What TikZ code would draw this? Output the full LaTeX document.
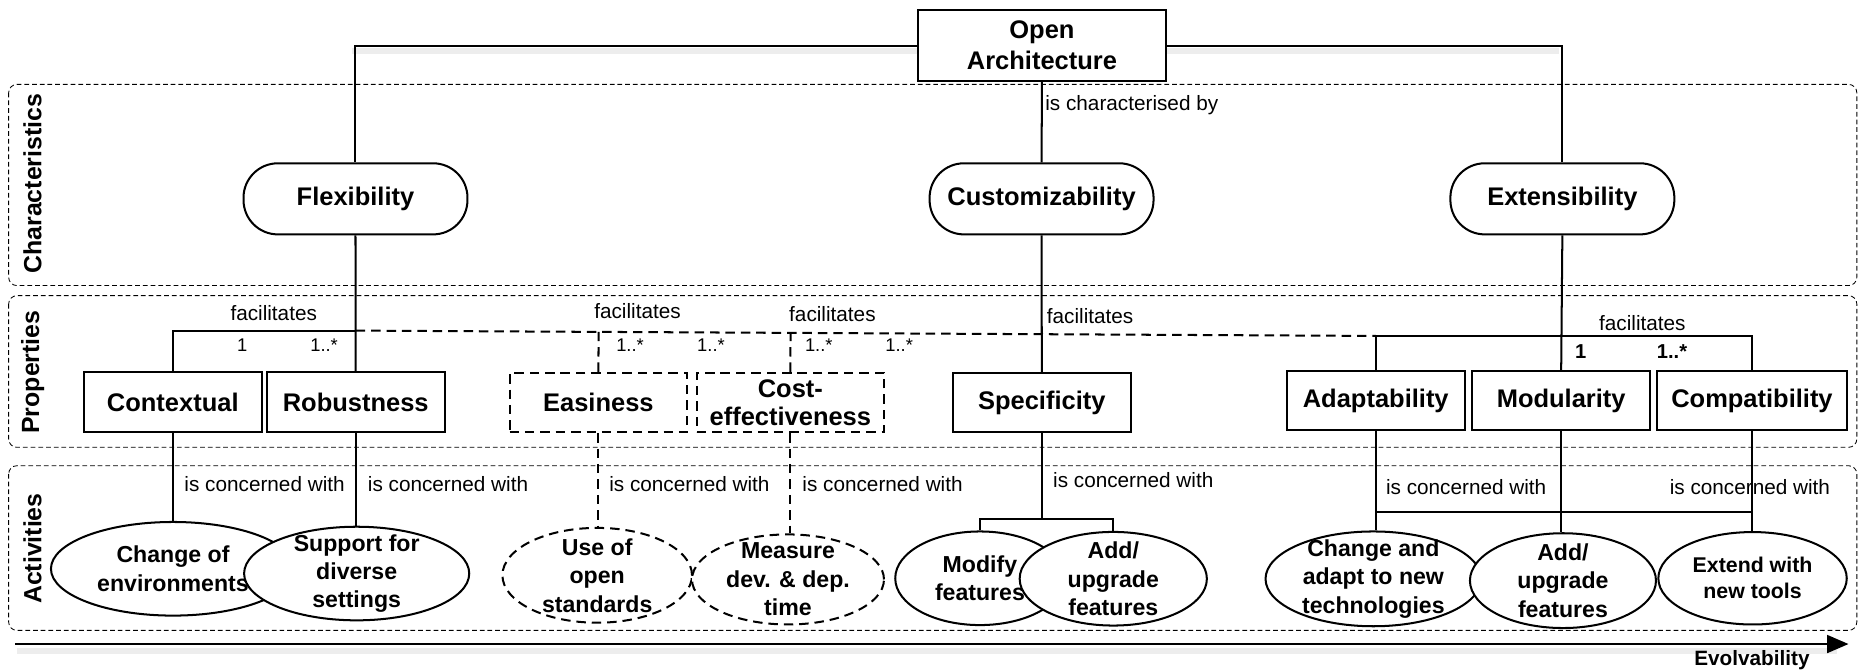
\documentclass[tikz,border=0pt]{standalone}
\usepackage{fontspec}
\setmainfont{Liberation Sans}
\usetikzlibrary{shapes.geometric,calc,arrows.meta}

\begin{document}
\begin{tikzpicture}[x=1pt,y=-1pt,
  lane/.style={draw, line width=0.7pt, dash pattern=on 4pt off 2.5pt, rounded corners=7pt},
  lanename/.style={rotate=90, font=\fontsize{21}{24}\selectfont\bfseries, inner sep=0pt},
  topbox/.style={draw, line width=1.7pt, fill=white, minimum width=209pt, minimum height=60pt,
    inner sep=0pt, align=center, font=\fontsize{21.5}{26}\selectfont\bfseries},
  charbox/.style={draw, line width=1.7pt, fill=white, minimum width=189pt, minimum height=60pt,
    rounded corners=29pt, inner sep=0pt, font=\fontsize{21.5}{26}\selectfont\bfseries},
  propbox/.style={draw, line width=1.7pt, fill=white, minimum height=50pt, inner sep=0pt,
    align=center, font=\fontsize{21.5}{24}\selectfont\bfseries},
  optbox/.style={propbox, dash pattern=on 8pt off 5pt},
  actnode/.style={draw, ellipse, line width=1.7pt, fill=white, inner sep=0pt},
  optact/.style={actnode, dash pattern=on 8pt off 5pt},
  acttext/.style={align=center, inner sep=0pt, font=\fontsize{19.5}{24}\selectfont\bfseries},
  acttextsm/.style={align=center, inner sep=0pt, font=\fontsize{18}{22}\selectfont\bfseries},
  link/.style={line width=1.7pt},
  optlink/.style={line width=1.7pt, dash pattern=on 8pt off 5pt},
  rel/.style={font=\fontsize{17.5}{20}\selectfont, inner sep=0pt},
  card/.style={font=\fontsize{15.5}{17}\selectfont, inner sep=0pt},
  cardbold/.style={font=\fontsize{17}{19}\selectfont\bfseries, inner sep=0pt},
  shade/.style={line width=5pt, gray!14},
]
\useasboundingbox (0,0) rectangle (1568,566);

% swim lanes
\draw[lane] (7.3,71.2) rectangle (1567,241);
\draw[lane] (7.3,249.5) rectangle (1567,377.5);
\draw[lane] (7.3,393) rectangle (1567,532);
\node[lanename] (lchar) at (27.5,155) {Characteristics};
\node[lanename] (lprop) at (27.5,314) {Properties};
\node[lanename] (lact) at (27.5,463) {Activities};

% evolvability axis
\draw[shade] (14,549) -- (1550,549);
\coordinate (ax0) at (12.7,543.5);
\coordinate (ax1) at (1560,543.5);
\draw[line width=1.8pt, -{Triangle[length=18pt,width=15pt]}] (ax0) -- (ax1);
\node[font=\fontsize{17.5}{20}\selectfont\bfseries, inner sep=0pt] (evo) at (1478.5,557) {Evolvability};

% top concept and characteristics
\node[topbox] (oa) at (879.3,38.4) {Open\\Architecture};
\node[charbox] (flex) at (300,167.8) {Flexibility};
\node[charbox] (cust) at (879,167.8) {Customizability};
\node[charbox] (ext) at (1318.5,167.8) {Extensibility};

% properties
\node[propbox, minimum width=150pt] (ctx) at (145.8,339.3) {Contextual};
\node[propbox, minimum width=150.5pt] (rob) at (300.2,339.3) {Robustness};
\node[optbox, minimum width=150pt] (eas) at (505,339.7) {Easiness};
\node[optbox, minimum width=158pt] (cost) at (667,339.7) {Cost-\\effectiveness};
\node[propbox, minimum width=150.5pt] (spec) at (879.2,339.7) {Specificity};
\node[propbox, minimum width=150pt] (ada) at (1161,338) {Adaptability};
\node[propbox, minimum width=150pt] (mod) at (1317.5,338) {Modularity};
\node[propbox, minimum width=161pt] (cmp) at (1478.5,338) {Compatibility};

% activities
\node[actnode, minimum width=206pt, minimum height=79pt,
  label={[acttext]center:{Change of\\environments}}] (chg) at (146,480) {};
\node[actnode, minimum width=190pt, minimum height=79pt,
  label={[acttext]center:{Support for\\diverse\\settings}}] (sup) at (301,484) {};
\node[optact, minimum width=160pt, minimum height=80pt,
  label={[acttext]center:{Use of\\open\\standards}}] (use) at (504,485.5) {};
\node[optact, minimum width=162pt, minimum height=76pt,
  label={[acttext]center:{Measure\\dev. \& dep.\\time}}] (meas) at (665,489) {};
\node[actnode, minimum width=143pt, minimum height=79pt,
  label={[acttext]center:{Modify\\features}}] (modf) at (827,488) {};
\node[actnode, minimum width=158pt, minimum height=79pt,
  label={[acttext]center:{Add/\\upgrade\\features}}] (addf) at (939.5,488.4) {};
\node[actnode, minimum width=182pt, minimum height=80pt,
  label={[acttext]center:{Change and\\adapt to new\\technologies}}] (chad) at (1159,488.5) {};
\node[actnode, minimum width=157pt, minimum height=80pt,
  label={[acttext]center:{Add/\\upgrade\\features}}] (addu) at (1319,490) {};
\node[actnode, minimum width=159pt, minimum height=78pt,
  label={[acttextsm]center:{Extend with\\new tools}}] (extt) at (1479,488) {};

% open architecture is characterised by ...
\draw[shade] ([yshift=-5pt]oa.west) -- ([yshift=-5pt,xshift=-3pt]oa.west -| flex.north);
\draw[shade] ([yshift=-5pt]oa.east) -- ([yshift=-5pt,xshift=-3pt]oa.east -| ext.north);
\draw[link] (oa.west) -| (flex.north);
\draw[link] (oa.east) -| (ext.north);
\draw[link] (oa.south) -- (cust.north);
\node[rel, anchor=west] (lcb) at (882,88.6) {is characterised by};

% facilitates
\coordinate (ybar) at (0,279);
\coordinate (ybarx) at (0,283.5);
\coordinate (fj) at (rob.north |- ybar);
\coordinate (aj) at (ada.north |- ybarx);
\draw[link] (flex.south) -- (rob.north);
\draw[link] (ctx.north) |- (fj);
\draw[optlink] (fj) -- (aj);
\draw[optlink] (eas.north) -- ($(fj)!(eas.north)!(aj)$);
\draw[optlink] (cost.north) -- ($(fj)!(cost.north)!(aj)$);
\draw[link] (cust.south) -- (spec.north);
\draw[link] (ext.south) -- (mod.north);
\draw[link] (ada.north) -- (aj) -- (cmp.north |- aj) -- (cmp.north);

\node[rel] (fa1) at (231,264.4) {facilitates};
\node[rel] (fa2) at (538,262.2) {facilitates};
\node[rel] (fa3) at (702.5,265) {facilitates};
\node[rel, anchor=west] (fa4) at (883.3,266.7) {facilitates};
\node[rel] (fa5) at (1386,272.3) {facilitates};

\node[card] (c1) at (204.5,291) {1};
\node[card] (c2) at (273.5,291) {1..*};
\node[card] (c3) at (531.7,291) {1..*};
\node[card] (c4) at (600,291) {1..*};
\node[card] (c5) at (691,291) {1..*};
\node[card] (c6) at (758.8,291) {1..*};
\node[cardbold] (c7) at (1334,297) {1};
\node[cardbold] (c8) at (1411,297) {1..*};

% is concerned with
\coordinate (ysb) at (0,438);
\coordinate (yab) at (0,432);
\draw[link] (ctx.south) -- (ctx.south |- chg.north);
\draw[link] (rob.south) -- (rob.south |- sup.north);
\draw[optlink] (eas.south) -- (eas.south |- use.north);
\draw[optlink] (cost.south) -- (cost.south |- meas.north);
\draw[link] (spec.south) -- (spec.south |- ysb);
\draw[link] (modf.north) -- (modf.north |- ysb) -- (addf.north |- ysb) -- (addf.north);
\draw[link] (ada.south) -- (ada.south |- chad.north);
\draw[link] (mod.south) -- (mod.south |- addu.north);
\draw[link] (cmp.south) -- (cmp.south |- extt.north);
\draw[link] (ada.south |- yab) -- (cmp.south |- yab);

\node[rel, anchor=west] (cw1) at (155.5,408.4) {is concerned with};
\node[rel, anchor=west] (cw2) at (310.3,408.4) {is concerned with};
\node[rel, anchor=west] (cw3) at (514,408.5) {is concerned with};
\node[rel, anchor=west] (cw4) at (677,408.5) {is concerned with};
\node[rel, anchor=west] (cw5) at (888.6,405) {is concerned with};
\node[rel, anchor=west] (cw6) at (1169.5,411) {is concerned with};
\node[rel, anchor=west] (cw7) at (1409,411) {is concerned with};
\end{tikzpicture}
\end{document}
